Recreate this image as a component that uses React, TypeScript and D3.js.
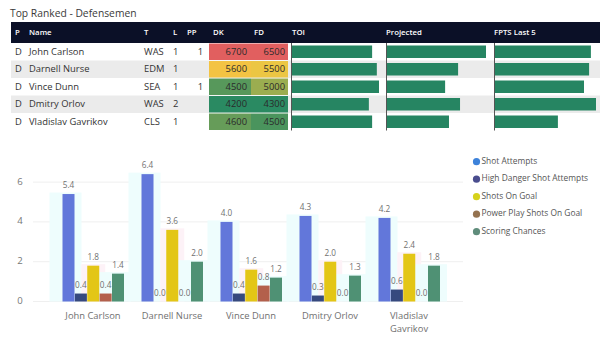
import React from "react";
import * as d3 from "d3";

// ---------- data ----------
const players = ["John Carlson", "Darnell Nurse", "Vince Dunn", "Dmitry Orlov", "Vladislav Gavrikov"];
const positions = ["D", "D", "D", "D", "D"];
const teams = ["WAS", "EDM", "SEA", "WAS", "CLS"];
const lines = [1, 1, 1, 2, 1];
const powerPlay: (number | null)[] = [1, null, 1, null, null];
const dkSalary = [6700, 5600, 4500, 4200, 4600];
const fdSalary = [6500, 5500, 5000, 4300, 4500];
const toi = [22.4, 23.7, 24.3, 21.5, 22.4];
const projected = [3.62, 2.61, 2.14, 2.68, 2.28];
const fptsLast5 = [3.23, 3.17, 3.0, 3.4, 2.13];

const tableHeaders = ["P", "Name", "T", "L", "PP", "DK", "FD", "TOI", "Projected", "FPTS Last 5"];

const seriesNames = ["Shot Attempts", "High Danger Shot Attempts", "Shots On Goal", "Power Play Shots On Goal", "Scoring Chances"];
const shotAttempts = [5.4, 6.4, 4.0, 4.3, 4.2];
const highDanger = [0.4, 0.0, 0.4, 0.3, 0.6];
const shotsOnGoal = [1.8, 3.6, 1.6, 2.0, 2.4];
const ppShotsOnGoal = [0.4, 0.0, 0.8, 0.0, 0.0];
const scoringChances = [1.4, 2.0, 1.2, 1.3, 1.8];
const yTicks = [0, 2, 4, 6];

const title = "Top Ranked - Defensemen";
const salaryMid = 5550;

// ---------- style ----------
const FONT = "'Open Sans', 'Noto Sans', sans-serif";
const barColors = ["#6277da", "#36497e", "#e3c616", "#b3604c", "#4f9174"];
const legendColors = ["#3d82da", "#4a4d8e", "#d6d21c", "#94724f", "#5f8c7b"];
const ghostColors = ["#eefdfd", null, "#fdf2f7", null, "#eefdfd"];
const dataBarColor = "#268562";

export default function App() {
  const seriesValues = [shotAttempts, highDanger, shotsOnGoal, ppShotsOnGoal, scoringChances];

  // table layout
  const tableLeft = 11;
  const headTop = 22;
  const headBottom = 43;
  const rowH = 17.5;
  const rowTop = (i: number) => headBottom + i * rowH;
  const colText = { P: 15, Name: 29, T: 144, L: 173, PPHead: 187, PPVal: 203 };
  const dkX: [number, number] = [209, 251];
  const fdX: [number, number] = [251, 288];
  const barCols = [
    { x0: 291, values: toi, maxW: 88 },
    { x0: 386, values: projected, maxW: 100 },
    { x0: 494, values: fptsLast5, maxW: 102 },
  ];

  const salaryColor = (vals: number[]) => {
    const mn = d3.min(vals)!;
    const mx = d3.max(vals)!;
    return d3
      .scaleLinear<string>()
      .domain([mn, salaryMid, mx])
      .range(["#2a8a62", "#f4c842", "#e15f5f"]);
  };
  const dkColor = salaryColor(dkSalary);
  const fdColor = salaryColor(fdSalary);

  const headerX = [15, 29, 144, 173, 187, 213, 254, 292, 386, 494];

  // chart layout
  const x0 = d3.scaleBand<string>().domain(players).range([53.5, 448.5]);
  const x1 = d3.scaleBand<string>().domain(seriesNames).range([9, 70.5]).paddingInner(0.03);
  const y = d3.scaleLinear().domain([0, 7]).range([301.5, 162.2]);

  const wrap = (s: string) => (s.length > 14 ? s.split(" ") : [s]);

  return (
    <svg
      width={600}
      height={340}
      style={{ position: "absolute", left: 0, top: 0, background: "#fff", fontFamily: FONT }}
    >
      {/* title */}
      <text x={10} y={17} fontSize={10.3} fill="#3a3a3a">
        {title}
      </text>

      {/* table header */}
      <rect x={tableLeft} y={headTop} width={600 - tableLeft} height={headBottom - headTop} fill="#0b1027" />
      {tableHeaders.map((h, i) => (
        <text key={h} x={headerX[i]} y={33} fontSize={7.8} fontWeight={600} fill="#ffffff" dominantBaseline="middle">
          {h}
        </text>
      ))}

      {/* rows */}
      {players.map((p, i) => {
        const t = rowTop(i);
        const cy = t + rowH / 2 + 0.5;
        return (
          <g key={p}>
            {i % 2 === 1 && <rect x={tableLeft} y={t} width={600 - tableLeft} height={rowH} fill="#ebebeb" />}
            <text x={colText.P} y={cy} fontSize={9.4} fill="#333" dominantBaseline="middle">
              {positions[i]}
            </text>
            <text x={colText.Name} y={cy} fontSize={9.4} fill="#333" dominantBaseline="middle">
              {p}
            </text>
            <text x={colText.T} y={cy} fontSize={9.4} fill="#333" dominantBaseline="middle">
              {teams[i]}
            </text>
            <text x={colText.L} y={cy} fontSize={9.4} fill="#333" dominantBaseline="middle">
              {lines[i]}
            </text>
            {powerPlay[i] != null && (
              <text x={colText.PPVal} y={cy} fontSize={9.4} fill="#333" dominantBaseline="middle" textAnchor="end">
                {powerPlay[i]}
              </text>
            )}
            <rect x={dkX[0]} y={t + 0.5} width={dkX[1] - dkX[0]} height={rowH - 1} fill={dkColor(dkSalary[i])} />
            <rect x={fdX[0]} y={t + 0.5} width={fdX[1] - fdX[0]} height={rowH - 1} fill={fdColor(fdSalary[i])} />
            <text x={dkX[1] - 4} y={cy} fontSize={9.4} fill="#2b2b2b" dominantBaseline="middle" textAnchor="end">
              {dkSalary[i]}
            </text>
            <text x={fdX[1] - 3} y={cy} fontSize={9.4} fill="#2b2b2b" dominantBaseline="middle" textAnchor="end">
              {fdSalary[i]}
            </text>
          </g>
        );
      })}

      {/* data bars */}
      {barCols.map((c, ci) => {
        const s = d3.scaleLinear().domain([0, d3.max(c.values)!]).range([0, c.maxW]);
        return (
          <g key={ci}>
            {c.values.map((v, i) => (
              <rect key={i} x={c.x0} y={rowTop(i) + 2.5} width={s(v)} height={12.5} fill={dataBarColor} />
            ))}
            <line x1={c.x0 + 0.5} x2={c.x0 + 0.5} y1={headBottom} y2={rowTop(players.length)} stroke="#555" strokeWidth={1} />
          </g>
        );
      })}

      {/* chart gridlines & y axis */}
      {yTicks.map((t) => (
        <g key={t}>
          <line x1={33} x2={463} y1={y(t)} y2={y(t)} stroke="#efefef" strokeWidth={1} />
          <text x={20} y={y(t)} fontSize={9.6} fill="#777" textAnchor="middle" dominantBaseline="middle">
            {t}
          </text>
        </g>
      ))}

      {/* ghost shading */}
      {players.map((p, i) =>
        seriesNames.map((sn, si) => {
          const gc = ghostColors[si];
          if (!gc) return null;
          const v = seriesValues[si][i];
          const bx = x0(p)! + x1(sn)!;
          const left = si === 2 ? bx - 6 : bx - 13;
          const w = si === 2 ? 24 : 32;
          return (
            <rect key={p + sn} x={left} y={y(v) - 1.5} width={w} height={y(0) - y(v) + 1.5} fill={gc} />
          );
        })
      )}

      {/* bars */}
      {players.map((p, i) =>
        seriesNames.map((sn, si) => {
          const v = seriesValues[si][i];
          const bx = x0(p)! + x1(sn)!;
          const bw = x1.bandwidth();
          return (
            <g key={p + sn}>
              <rect x={bx} y={y(v)} width={bw} height={y(0) - y(v)} fill={barColors[si]} />
              <text x={bx + bw / 2} y={y(v) - 8} fontSize={8.2} fill="#707070" textAnchor="middle" dominantBaseline="middle">
                {d3.format(".1f")(v)}
              </text>
            </g>
          );
        })
      )}

      {/* x axis labels */}
      {players.map((p) => {
        const cx = x0(p)! + x0.bandwidth() / 2;
        return (
          <text key={p} x={cx} y={316} fontSize={9.4} fill="#707070" textAnchor="middle" dominantBaseline="middle">
            {wrap(p).map((ln, li) => (
              <tspan key={li} x={cx} dy={li === 0 ? 0 : 12.5}>
                {ln}
              </tspan>
            ))}
          </text>
        );
      })}

      {/* legend */}
      {seriesNames.map((sn, si) => {
        const ly = 161.7 + si * 17.5;
        return (
          <g key={sn}>
            <circle cx={476.5} cy={ly} r={3.6} fill={legendColors[si]} />
            <text x={481.5} y={ly} fontSize={8.4} fill="#555" dominantBaseline="middle">
              {sn}
            </text>
          </g>
        );
      })}
    </svg>
  );
}
